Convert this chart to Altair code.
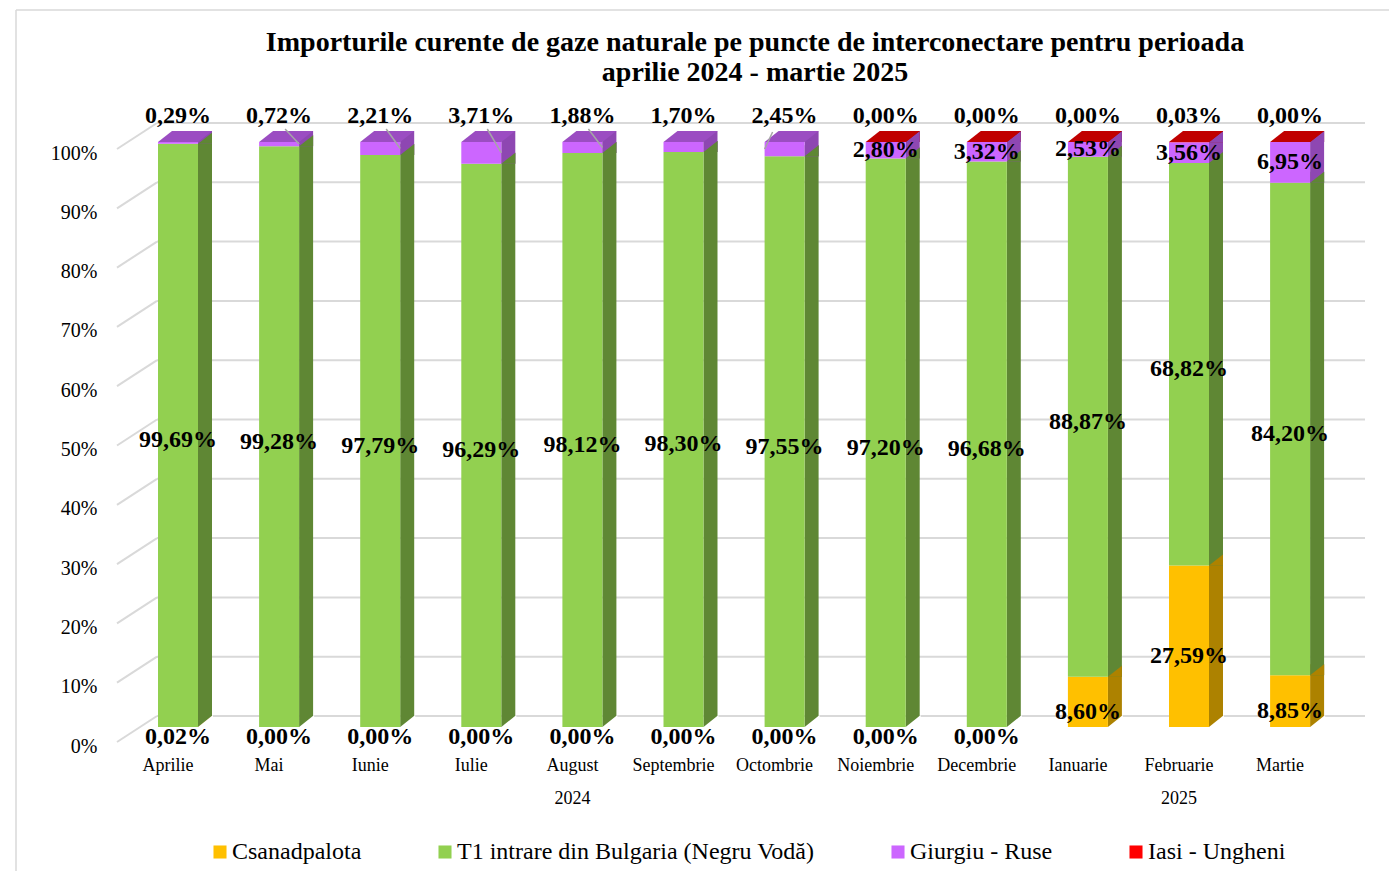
import altair as alt
import pandas as pd

# ---------------- data ----------------
MONTHS = ["Aprilie", "Mai", "Iunie", "Iulie", "August", "Septembrie", "Octombrie",
          "Noiembrie", "Decembrie", "Ianuarie", "Februarie", "Martie"]
YEARS = ["2024"] * 9 + ["2025"] * 3
SERIES = ["Csanadpalota", "T1 intrare din Bulgaria (Negru Vodă)", "Giurgiu - Ruse", "Iasi - Ungheni"]
CSANADPALOTA = [0.02, 0.00, 0.00, 0.00, 0.00, 0.00, 0.00, 0.00, 0.00, 8.60, 27.59, 8.85]
T1_NEGRU_VODA = [99.69, 99.28, 97.79, 96.29, 98.12, 98.30, 97.55, 97.20, 96.68, 88.87, 68.82, 84.20]
GIURGIU_RUSE = [0.29, 0.72, 2.21, 3.71, 1.88, 1.70, 2.45, 2.80, 3.32, 2.53, 3.56, 6.95]
IASI_UNGHENI = [None, None, None, None, None, None, None, 0.00, 0.00, 0.00, 0.03, 0.00]
TICKS = [0, 10, 20, 30, 40, 50, 60, 70, 80, 90, 100]
TITLE_LINES = ["Importurile curente de gaze naturale pe puncte de interconectare pentru perioada",
               "aprilie 2024 - martie 2025"]
# months whose top label has a leader line (1 = to right edge, -1 = to left edge)
LEADER_MONTHS = ["Mai", "Iunie", "Iulie", "August", "Octombrie"]
LEADER_SIDE = [1, 1, 1, 1, -1]

# ---------------- styles ----------------
FRONT = ["#FFC000", "#92D050", "#CC66FF", "#FF0000"]
SIDE = ["#AD8200", "#5F8734", "#8E47B2", "#B00000"]
TOP = ["#C29200", "#6F9E3C", "#9B4DC2", "#C00000"]
FONT = "Liberation Serif"
GRID = "#D9D9D9"

# ---------------- table ----------------
cols = [CSANADPALOTA, T1_NEGRU_VODA, GIURGIU_RUSE, IASI_UNGHENI]
rows = []
for i, m in enumerate(MONTHS):
    present = [k for k in range(4) if cols[k][i] is not None]
    top_k = present[-1]
    cum = 0.0
    for k in present:
        v = cols[k][i]
        rows.append(dict(month=m, series=SERIES[k], value=v, bot=cum, top=cum + v,
                         mid=cum + v / 2, is_top=(k == top_k), idx=k,
                         label=f"{v:.2f}".replace(".", ",") + "%"))
        cum += v
df = pd.DataFrame(rows)
df_months = pd.DataFrame({"month": MONTHS})
yr_rows = []
for y in dict.fromkeys(YEARS):
    ids = [i for i, yy in enumerate(YEARS) if yy == y]
    yr_rows.append(dict(year=y, month=MONTHS[(ids[0] + ids[-1]) // 2]))
df_years = pd.DataFrame(yr_rows)
df_ticks = pd.DataFrame({"v": TICKS})
lead_rows = []
for m, s in zip(LEADER_MONTHS, LEADER_SIDE):
    r = df[(df.month == m) & (df.is_top)].iloc[0]
    lead_rows.append(dict(month=m, side=s, top=r["top"], mid=r["mid"]))
df_lead = pd.DataFrame(lead_rows)
one = alt.Data(values=[{}])

# ---------------- scales ----------------
XS = alt.Scale(domain=MONTHS, range=[119.45, 1332.65], paddingInner=0, paddingOuter=0)
YB = alt.Scale(domain=[0, 100], range=[719, 134], nice=False)
YG = alt.Scale(domain=[0, 100], range=[708, 115], nice=False)
X = alt.X("month:N", scale=XS, axis=None)

# frame
frame_top = alt.Chart(one).mark_rule(color=GRID, strokeWidth=1.5).encode(
    x=alt.value(8), x2=alt.value(1381), y=alt.value(2))
frame_left = alt.Chart(one).mark_rule(color=GRID, strokeWidth=1.5).encode(
    x=alt.value(8), y=alt.value(2), y2=alt.value(863))

# gridlines (back wall) + y axis labels
grid_h = alt.Chart(df_ticks).mark_rule(color=GRID, strokeWidth=2).encode(
    y=alt.Y("v:Q", scale=YG, axis=alt.Axis(
        values=TICKS, labelExpr="datum.value + '%'", domain=False, ticks=False, grid=False,
        tickSize=0, labelPadding=0, offset=-89, labelOffset=30, labelFont=FONT,
        labelFontSize=20, labelColor="#000000", title=None)),
    x=alt.value(149), x2=alt.value(1357))
grid_d = alt.Chart(df_ticks).mark_rule(color=GRID, strokeWidth=2, y2Offset=26).encode(
    y=alt.Y("v:Q", scale=YG, axis=None), y2="v:Q",
    x=alt.value(149), x2=alt.value(109))

# 3D bars
side = alt.Chart(df).transform_filter("datum.value > 0 || datum.is_top").mark_bar(
    width=14, xOffset=27, yOffset=-11).encode(
    x=X, y=alt.Y("top:Q", scale=YB, axis=None), y2="bot:Q",
    color=alt.Color("series:N", scale=alt.Scale(domain=SERIES, range=SIDE), legend=None))
tri = alt.Chart(df).transform_filter("datum.value > 0 && !datum.is_top").mark_point(
    shape="M 20 0 L 34 0 L 34 -11 Z", size=4, filled=True, opacity=1, strokeWidth=0).encode(
    x=X, y=alt.Y("top:Q", scale=YB, axis=None),
    color=alt.Color("series:N", scale=alt.Scale(domain=SERIES, range=SIDE), legend=None))
tri_bottom = alt.Chart(df_months).mark_point(
    shape="M 20 0 L 35 0 L 35 -12 Z", size=4, filled=True, opacity=1, strokeWidth=0,
    color="white").encode(x=X, y=alt.value(719))
front = alt.Chart(df).mark_bar(width=40).encode(
    x=X, y=alt.Y("top:Q", scale=YB, axis=None), y2="bot:Q",
    color=alt.Color("series:N", scale=alt.Scale(domain=SERIES, range=FRONT),
                    legend=alt.Legend(orient="none", legendX=200, legendY=832,
                                      direction="horizontal", columns=4, title=None,
                                      symbolType="square", symbolSize=170,
                                      symbolStrokeWidth=0, symbolOffset=0,
                                      labelFont=FONT, labelFontSize=24, labelColor="#000000",
                                      labelLimit=0, columnPadding=71, labelOffset=0)))
topface = alt.Chart(df).transform_filter("datum.is_top").mark_point(
    shape="M -20 0 L 20 0 L 34 -11 L -6 -11 Z", size=4, filled=True, opacity=1,
    strokeWidth=0).encode(
    x=X, y=alt.Y("top:Q", scale=YB, axis=None),
    color=alt.Color("series:N", scale=alt.Scale(domain=SERIES, range=TOP), legend=None))

# leader lines
lead_r = alt.Chart(df_lead).transform_filter("datum.side > 0").mark_rule(
    color="#A6A6A6", strokeWidth=1.5, xOffset=6, x2Offset=20, yOffset=-13).encode(
    x=X, x2="month:N", y=alt.Y("top:Q", scale=YB, axis=None), y2="mid:Q")
lead_l = alt.Chart(df_lead).transform_filter("datum.side < 0").mark_rule(
    color="#A6A6A6", strokeWidth=1.5, xOffset=-12, x2Offset=-20, yOffset=-10).encode(
    x=X, x2="month:N", y=alt.Y("top:Q", scale=YB, axis=None), y2="mid:Q")

# data labels
def lbl(filt, field, dy):
    return alt.Chart(df).transform_filter(filt).mark_text(
        font=FONT, fontWeight="bold", fontSize=24, baseline="middle", yOffset=dy,
        color="#000000").encode(
        x=X, y=alt.Y(f"{field}:Q", scale=YB, axis=None), text="label:N")

lbl_top = lbl("datum.is_top", "top", -26)
lbl_c = lbl("!datum.is_top && datum.idx == 0", "mid", 10)
lbl_g = lbl("!datum.is_top && datum.idx == 1", "mid", 5)
lbl_p = lbl("!datum.is_top && datum.idx == 2", "mid", 0)

# category labels
months_txt = alt.Chart(df_months).mark_text(font=FONT, fontSize=18, baseline="middle",
                                            xOffset=-10, color="#000000").encode(
    x=X, y=alt.value(758), text="month:N")
years_txt = alt.Chart(df_years).mark_text(font=FONT, fontSize=18, baseline="middle",
                                          xOffset=-10, color="#000000").encode(
    x=X, y=alt.value(791), text="year:N")
title_txt = alt.Chart(one).mark_text(font=FONT, fontSize=28, fontWeight="bold",
                                     align="center", baseline="alphabetic", lineHeight=30,
                                     color="#000000").encode(
    x=alt.value(747), y=alt.value(43), text=alt.value(TITLE_LINES))

chart = alt.layer(
    frame_top, frame_left, grid_h, grid_d, side, tri, tri_bottom, front, topface,
    lead_r, lead_l, lbl_top, lbl_c, lbl_g, lbl_p, months_txt, years_txt, title_txt
).resolve_scale(y="independent", color="independent").properties(
    width=1381, height=863, padding=0, autosize=alt.AutoSizeParams(type="none")
).configure_view(stroke=None)

chart.save("out.html", embed_options={"renderer": "svg", "actions": False})
